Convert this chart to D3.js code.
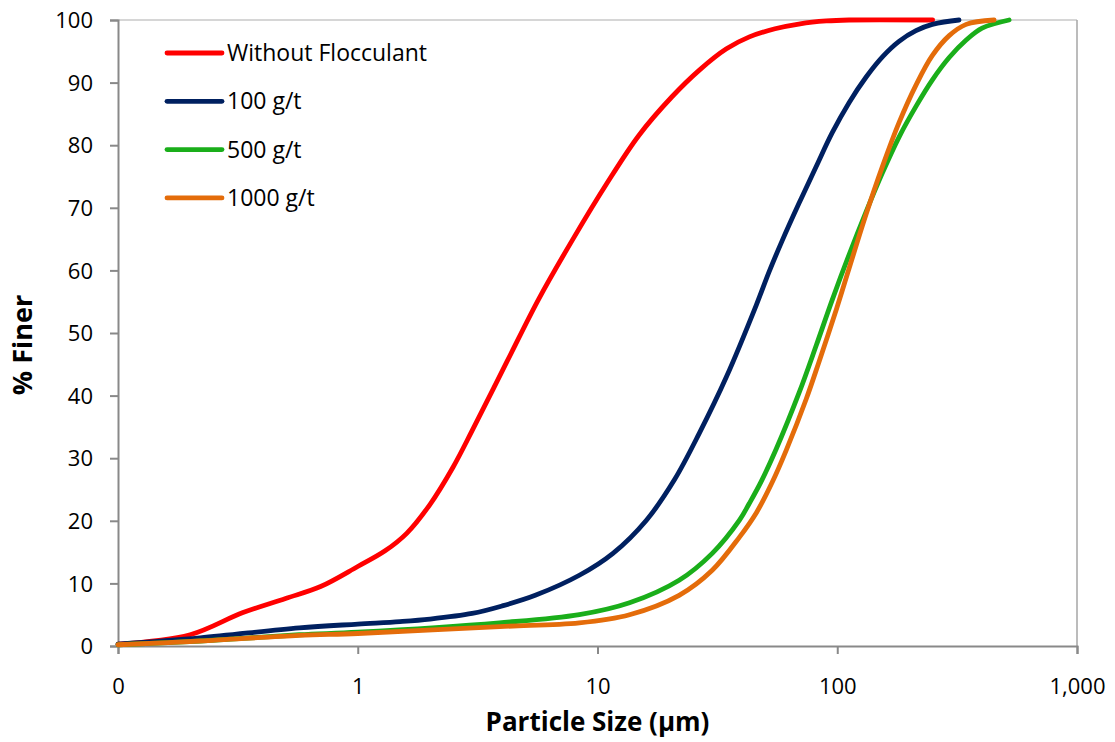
<!DOCTYPE html>
<html>
<head>
<meta charset="utf-8">
<script src="https://cdn.jsdelivr.net/npm/d3@7"></script>
<style>
  body { margin: 0; background: #fff; }
  text { font-family: "Open Sans", Lato, sans-serif; fill: #000; }
  .axisTitle { font-weight: bold; }
</style>
</head>
<body>
<div class="chart"></div>
<script>
//Series names and colours.
var seriesNames = ["Without Flocculant", "100 g/t", "500 g/t", "1000 g/t"];
var seriesColors = ["#ff0000", "#002060", "#1aae1a", "#e46c0a"];

//Particle size (um) and % finer.
var sizeNone = [0.1, 0.2, 0.33, 0.5, 0.7, 1.0, 1.3, 1.6, 2.0, 2.5, 3.0, 4.2, 5.7, 7.9, 10.9, 14.9, 20.4, 26.6, 34.5, 43, 55, 70, 90, 112, 250];
var finerNone = [0.3, 1.8, 5.3, 7.6, 9.5, 12.7, 15.2, 18.0, 22.6, 28.6, 34.4, 45.5, 55.5, 65.0, 73.8, 81.6, 87.7, 92.0, 95.4, 97.3, 98.6, 99.4, 99.85, 100, 100];

var size100 = [0.1, 0.22, 0.57, 1.0, 1.5, 2.0, 3.0, 4.0, 5.5, 8.4, 11.6, 16.0, 20.9, 26.6, 34.5, 46.0, 52, 59, 69.4, 81.7, 95.3, 112, 132, 155, 181, 213, 249, 322];
var finer100 = [0.3, 1.3, 2.9, 3.5, 3.9, 4.3, 5.2, 6.4, 8.1, 11.3, 14.8, 20.1, 26.5, 34.0, 43.0, 54.5, 59.8, 64.8, 70.8, 76.6, 82.0, 86.8, 90.9, 94.2, 96.6, 98.3, 99.3, 100];

var size500 = [0.1, 0.22, 0.57, 1.0, 3.9, 8.4, 13.6, 21.9, 30.1, 39.1, 43.0, 48.2, 55.7, 69.4, 81.7, 95.3, 112, 132, 154, 181, 213, 249, 293, 345, 402, 521];
var finer500 = [0.2, 0.8, 1.8, 2.2, 3.7, 5.0, 6.9, 10.5, 14.8, 20.1, 22.8, 26.3, 31.5, 40.5, 48.0, 55.3, 62.5, 69.4, 75.5, 81.3, 86.2, 90.4, 94.0, 96.8, 98.7, 100];

var size1000 = [0.1, 0.22, 0.57, 1.0, 3.9, 8.4, 13.6, 21.9, 30.1, 39.1, 46.0, 53.6, 61.3, 74.3, 84.1, 99.2, 112, 132, 154, 181, 213, 249, 293, 345, 451];
var finer1000 = [0.2, 0.8, 1.7, 2.0, 3.1, 3.7, 5.0, 8.1, 12.1, 17.4, 21.3, 26.2, 31.3, 39.5, 45.5, 53.8, 60.3, 69.0, 76.5, 83.6, 89.6, 94.3, 97.5, 99.3, 100];

//Tick values and labels.
var xTicks = [0.1, 1, 10, 100, 1000];
var xTickLabels = ["0", "1", "10", "100", "1,000"];
var yTicks = [0, 10, 20, 30, 40, 50, 60, 70, 80, 90, 100];

var allSizes = [sizeNone, size100, size500, size1000];
var allFiner = [finerNone, finer100, finer500, finer1000];

//Define the SVG area dimensions.
var svgWidth = 1115;
var svgHeight = 742;

var margin = { top: 20, right: 38, bottom: 96, left: 118 };
var chartWidth = svgWidth - margin.left - margin.right;
var chartHeight = svgHeight - margin.top - margin.bottom;

var svg = d3.select(".chart")
  .append("svg")
  .attr("width", svgWidth)
  .attr("height", svgHeight);

var chart = svg.append("g")
  .attr("transform", "translate(" + margin.left + "," + margin.top + ")");

//Scales.
var xScale = d3.scaleLog().domain([0.1, 1000]).range([0, chartWidth]);
var yScale = d3.scaleLinear().domain([0, 100]).range([chartHeight, 0]);

//Plot border (top and right).
chart.append("line")
  .attr("x1", 0).attr("x2", chartWidth)
  .attr("y1", 0).attr("y2", 0)
  .attr("stroke", "#c8c8c8").attr("stroke-width", 1.5);
chart.append("line")
  .attr("x1", chartWidth).attr("x2", chartWidth)
  .attr("y1", 0).attr("y2", chartHeight)
  .attr("stroke", "#a6a6a6").attr("stroke-width", 1.5);

//Axes.
var bottomAxis = d3.axisBottom(xScale)
  .tickValues(xTicks)
  .tickSize(8)
  .tickFormat(function(d, i) { return xTickLabels[i]; });
var leftAxis = d3.axisLeft(yScale)
  .tickValues(yTicks)
  .tickSize(8);

var xAxisG = chart.append("g")
  .attr("transform", "translate(0," + chartHeight + ")")
  .call(bottomAxis);
var yAxisG = chart.append("g")
  .call(leftAxis);

[xAxisG, yAxisG].forEach(function(g) {
  g.select(".domain").attr("stroke", "#898989").attr("stroke-width", 2);
  g.selectAll(".tick line").attr("stroke", "#898989").attr("stroke-width", 2);
  g.selectAll(".tick text").style("font-size", "22px").attr("fill", "#000");
});
xAxisG.selectAll(".tick text").attr("dy", "0").attr("y", 48);
yAxisG.selectAll(".tick text").attr("x", -25).attr("dy", "0.35em");

//Lines.
var line = d3.line()
  .x(function(d) { return xScale(d[0]); })
  .y(function(d) { return yScale(d[1]); })
  .curve(d3.curveCatmullRom.alpha(0.5));

allSizes.forEach(function(sizes, i) {
  var pts = sizes.map(function(s, j) { return [s, allFiner[i][j]]; });
  chart.append("path")
    .datum(pts)
    .attr("d", line)
    .attr("fill", "none")
    .attr("stroke", seriesColors[i])
    .attr("stroke-width", 4.8)
    .attr("stroke-linecap", "round");
});

//Legend.
var legend = svg.append("g").attr("transform", "translate(167,53)");
seriesNames.forEach(function(name, i) {
  var row = legend.append("g").attr("transform", "translate(0," + (i * 48.3) + ")");
  row.append("line")
    .attr("x1", 0).attr("x2", 55)
    .attr("stroke", seriesColors[i])
    .attr("stroke-width", 4.8)
    .attr("stroke-linecap", "round");
  row.append("text")
    .attr("x", 60)
    .attr("dy", "0.35em")
    .style("font-size", "23px")
    .text(name);
});

//Axis titles.
svg.append("text")
  .attr("class", "axisTitle")
  .attr("x", margin.left + chartWidth / 2)
  .attr("y", 731)
  .attr("text-anchor", "middle")
  .style("font-size", "26px")
  .text("Particle Size (µm)");

svg.append("text")
  .attr("class", "axisTitle")
  .attr("transform", "translate(32," + (margin.top + chartHeight / 2 + 12) + ") rotate(-90)")
  .attr("text-anchor", "middle")
  .style("font-size", "27px")
  .text("% Finer");
</script>
</body>
</html>
